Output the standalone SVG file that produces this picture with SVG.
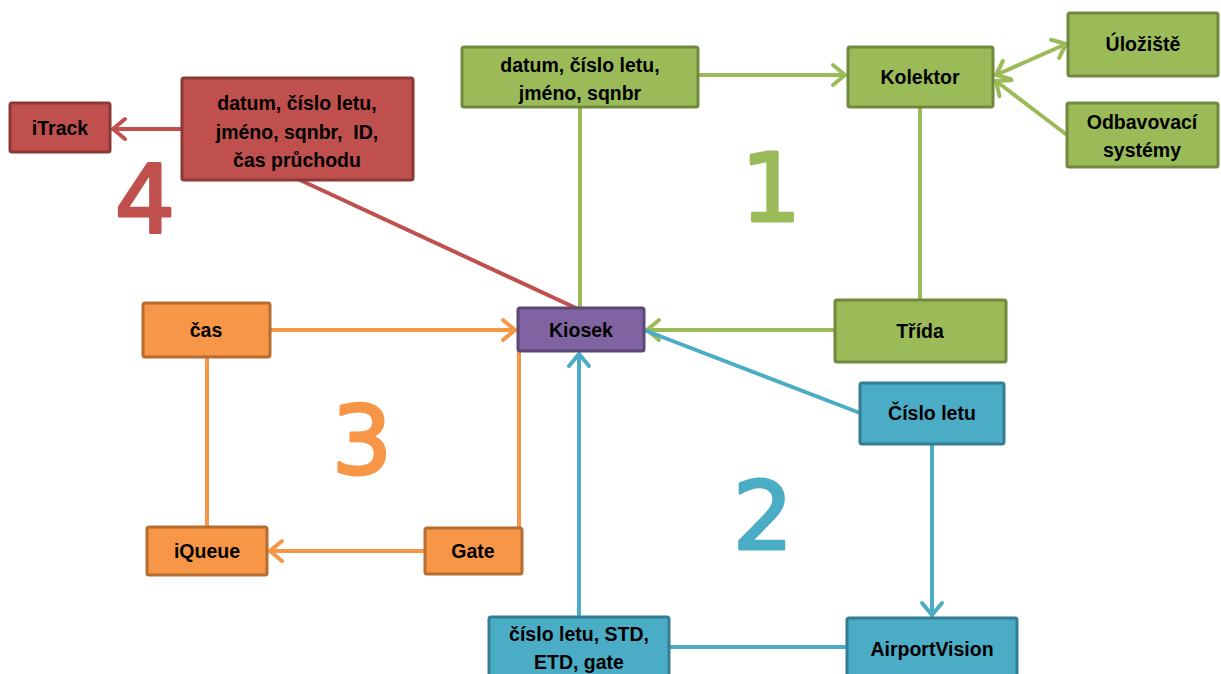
<svg xmlns="http://www.w3.org/2000/svg" width="1221" height="674" viewBox="0 0 1221 674">
<style>
  .box{stroke-width:3}
  .g{fill:#9bbb59;stroke:#71893f}
  .r{fill:#c0504d;stroke:#8c3836}
  .o{fill:#f79646;stroke:#b66d31}
  .b{fill:#4bacc6;stroke:#357d91}
  .p{fill:#8064a2;stroke:#5c4776}
  .t{font-family:"Liberation Sans",Arial,sans-serif;font-weight:bold;font-size:19.5px;fill:#000;text-anchor:middle;white-space:pre}
  .num{font-family:"DejaVu Sans",sans-serif;font-size:95px;text-anchor:middle;stroke-width:3;stroke-linejoin:round}
  .c{fill:none;stroke-width:4;stroke-linecap:round}
  .cg{stroke:#9bbb59}.cr{stroke:#c0504d}.co{stroke:#f79646}.cb{stroke:#4bacc6}
</style>
<defs>
  <marker id="ag" markerUnits="userSpaceOnUse" markerWidth="30" markerHeight="30" viewBox="-15 -15 30 30" refX="0" refY="0" orient="auto-start-reverse" overflow="visible"><path d="M-12,-10 L0,0 L-12,10" fill="none" stroke="#9bbb59" stroke-width="4" stroke-linecap="round" stroke-linejoin="round"/></marker>
  <marker id="ar" markerUnits="userSpaceOnUse" markerWidth="30" markerHeight="30" viewBox="-15 -15 30 30" refX="0" refY="0" orient="auto" overflow="visible"><path d="M-12,-10 L0,0 L-12,10" fill="none" stroke="#c0504d" stroke-width="4" stroke-linecap="round" stroke-linejoin="round"/></marker>
  <marker id="ao" markerUnits="userSpaceOnUse" markerWidth="30" markerHeight="30" viewBox="-15 -15 30 30" refX="0" refY="0" orient="auto" overflow="visible"><path d="M-12,-10 L0,0 L-12,10" fill="none" stroke="#f79646" stroke-width="4" stroke-linecap="round" stroke-linejoin="round"/></marker>
  <marker id="ab" markerUnits="userSpaceOnUse" markerWidth="30" markerHeight="30" viewBox="-15 -15 30 30" refX="0" refY="0" orient="auto" overflow="visible"><path d="M-12,-10 L0,0 L-12,10" fill="none" stroke="#4bacc6" stroke-width="4" stroke-linecap="round" stroke-linejoin="round"/></marker>
</defs>
<rect width="1221" height="674" fill="#fff"/>
<g id="connectors">
  <line class="c cr" x1="182" y1="129" x2="113" y2="129" marker-end="url(#ar)"/>
  <line class="c cr" x1="300" y1="180" x2="578" y2="309"/>
  <line class="c cg" x1="698" y1="75" x2="845" y2="75" marker-end="url(#ag)"/>
  <line class="c cg" x1="996" y1="75" x2="1066" y2="44" marker-start="url(#ag)" marker-end="url(#ag)"/>
  <line class="c cg" x1="1067" y1="135" x2="996" y2="81" marker-end="url(#ag)"/>
  <line class="c cg" x1="920" y1="107" x2="920" y2="300"/>
  <line class="c cg" x1="580" y1="107" x2="580" y2="308"/>
  <line class="c cg" x1="835" y1="330" x2="647" y2="330" marker-end="url(#ag)"/>
  <line class="c co" x1="270" y1="330" x2="515" y2="330" marker-end="url(#ao)"/>
  <line class="c co" x1="207" y1="357" x2="207" y2="527"/>
  <line class="c co" x1="519" y1="351" x2="519" y2="528"/>
  <line class="c co" x1="425" y1="551" x2="270" y2="551" marker-end="url(#ao)"/>
  <line class="c cb" x1="644" y1="330" x2="860" y2="413"/>
  <line class="c cb" x1="579" y1="617" x2="579" y2="354" marker-end="url(#ab)"/>
  <line class="c cb" x1="932" y1="444" x2="932" y2="615" marker-end="url(#ab)"/>
  <line class="c cb" x1="669" y1="647" x2="847" y2="647"/>
</g>
<g id="n-itrack"><rect class="box r" x="10" y="103" width="100" height="49" rx="2"/><text class="t" x="60" y="135">iTrack</text></g>
<g id="n-red"><rect class="box r" x="182" y="78" width="231" height="102" rx="2"/><text class="t" x="297" y="110">datum, číslo letu,</text><text class="t" x="297" y="139">jméno, sqnbr,  ID,</text><text class="t" x="297" y="167">čas průchodu</text></g>
<g id="n-datum"><rect class="box g" x="462" y="47" width="236" height="60" rx="2"/><text class="t" x="580" y="72">datum, číslo letu,</text><text class="t" x="580" y="100">jméno, sqnbr</text></g>
<g id="n-kolektor"><rect class="box g" x="848" y="47" width="145" height="60" rx="2"/><text class="t" x="920" y="84">Kolektor</text></g>
<g id="n-uloziste"><rect class="box g" x="1068" y="13" width="150" height="63" rx="2"/><text class="t" x="1143" y="51">Úložiště</text></g>
<g id="n-odbav"><rect class="box g" x="1067" y="103" width="151" height="64" rx="2"/><text class="t" x="1142" y="129">Odbavovací</text><text class="t" x="1142" y="157">systémy</text></g>
<g id="n-trida"><rect class="box g" x="835" y="300" width="171" height="62" rx="2"/><text class="t" x="920" y="338">Třída</text></g>
<g id="n-kiosek"><rect class="box p" x="518" y="308" width="126" height="43" rx="2"/><text class="t" x="581" y="337">Kiosek</text></g>
<g id="n-cislo"><rect class="box b" x="860" y="383" width="144" height="61" rx="2"/><text class="t" x="932" y="420">Číslo letu</text></g>
<g id="n-cas"><rect class="box o" x="143" y="303" width="127" height="54" rx="2"/><text class="t" x="206" y="337">čas</text></g>
<g id="n-iqueue"><rect class="box o" x="147" y="527" width="120" height="48" rx="2"/><text class="t" x="207" y="558">iQueue</text></g>
<g id="n-gate"><rect class="box o" x="425" y="528" width="97" height="46" rx="2"/><text class="t" x="473" y="558">Gate</text></g>
<g id="n-std"><rect class="box b" x="489" y="617" width="180" height="75" rx="2"/><text class="t" x="579" y="641">číslo letu, STD,</text><text class="t" x="579" y="669">ETD, gate</text></g>
<g id="n-av"><rect class="box b" x="847" y="618" width="170" height="75" rx="2"/><text class="t" x="932" y="656">AirportVision</text></g>
<g id="numbers">
  <text class="num" x="771" y="221" fill="#9bbb59" stroke="#9bbb59">1</text>
  <text class="num" x="763" y="549" fill="#4bacc6" stroke="#4bacc6">2</text>
  <text class="num" x="362" y="474" fill="#f79646" stroke="#f79646">3</text>
  <text class="num" x="145" y="232" fill="#c0504d" stroke="#c0504d">4</text>
</g>
</svg>
